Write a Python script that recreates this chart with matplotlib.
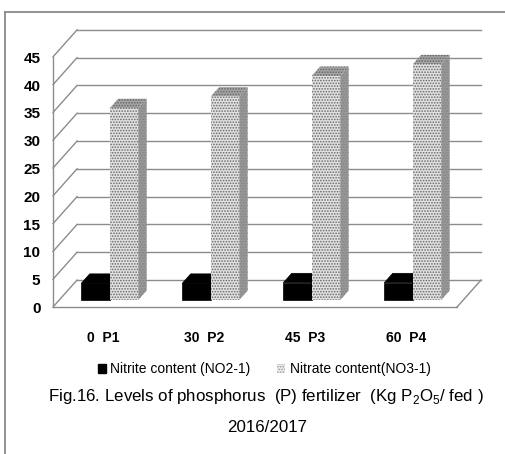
import matplotlib
matplotlib.use("Agg")
import matplotlib.pyplot as plt
from matplotlib.patches import Polygon, Patch
from matplotlib.lines import Line2D

categories = ["0  P1", "30  P2", "45  P3", "60  P4"]
nitrite = [3.0, 3.0, 3.1, 3.1]
nitrate = [34.5, 36.6, 40.3, 42.4]
series_names = ["Nitrite content (NO2-1)", "Nitrate content(NO3-1)"]
yticks = list(range(0, 50, 5))

plt.rcParams['font.family'] = ['Liberation Sans', 'DejaVu Sans']
plt.rcParams['hatch.linewidth'] = 0.8

# fake 3d: how far the back wall sits from the front (x in categories, y in value units)
DX, DY = 0.238, 4.85
BAR_W = 0.282
D0, D1 = 0.26, 0.61   # bar depth range (fraction of floor depth)
grid_c = '#8c8c8c'


def proj(x, v, d):
    return (x + d * DX, v + d * DY)


def draw_bar(ax, x0, h, front, top, side, hatch=None, hcol=None):
    x1 = x0 + BAR_W
    faces = [
        ([proj(x1, 0, D0), proj(x1, 0, D1), proj(x1, h, D1), proj(x1, h, D0)], side),
        ([proj(x0, h, D0), proj(x1, h, D0), proj(x1, h, D1), proj(x0, h, D1)], top),
        ([proj(x0, 0, D0), proj(x1, 0, D0), proj(x1, h, D0), proj(x0, h, D0)], front),
    ]
    for i, (pts, fc) in enumerate(faces):
        if hatch:
            p = Polygon(pts, closed=True, facecolor=fc, edgecolor=hcol[i],
                        hatch=hatch, linewidth=0, zorder=3)
        else:
            p = Polygon(pts, closed=True, facecolor=fc, edgecolor=fc,
                        linewidth=0.5, zorder=3)
        ax.add_patch(p)


fig = plt.figure(figsize=(5.06, 4.54), dpi=100)
ax = fig.add_axes([0, 0, 1, 1])
ax.set_xlim(-0.525, 4.485)
ax.set_ylim(-26.44, 55.22)
ax.axis('off')

n = len(categories)

# walls / gridlines
for v in yticks:
    ax.plot([DX, n + DX], [v + DY, v + DY], color=grid_c, lw=1.0, zorder=1)
    ax.plot([0, DX], [v, v + DY], color=grid_c, lw=1.0, zorder=1)
ax.plot([0, 0], [0, yticks[-1]], color=grid_c, lw=1.0, zorder=1)
ax.plot([0, n], [0, 0], color=grid_c, lw=1.0, zorder=1)
ax.plot([n, n + DX], [0, DY], color=grid_c, lw=1.0, zorder=1)

for v in yticks:
    ax.text(-0.125, v - 0.35, str(v), ha='right', va='center',
            fontsize=11, fontweight='bold')

# bars
for i in range(n):
    draw_bar(ax, i + 0.5 - BAR_W, nitrite[i], 'black', 'black', 'black')
    draw_bar(ax, i + 0.5, nitrate[i], '#e2e2e2', '#a6a6a6', '#989898',
             hatch='......', hcol=['#858585', '#646464', '#686868'])
    ax.text(i + 0.5, -5.6, categories[i], ha='center', va='center',
            fontsize=10, fontweight='bold')

# outer frame
fig.add_artist(Line2D([5 / 506, 1], [1 - 12 / 454, 1 - 12 / 454], color='#8a8a8a', lw=1.3))
fig.add_artist(Line2D([5 / 506, 5 / 506], [0, 1 - 12 / 454], color='#8a8a8a', lw=1.3))

handles = [Patch(facecolor='black', edgecolor='black'),
           Patch(facecolor='#ececec', edgecolor='#9c9c9c', hatch='......', linewidth=0)]
fig.legend(handles, series_names, loc='center', bbox_to_anchor=(0.522, 1 - 369 / 454),
           ncol=2, frameon=False, fontsize=10, handlelength=0.6, handleheight=0.6,
           handletextpad=0.3, columnspacing=1.9)

fig.text(0.526, 1 - 396 / 454,
         "Fig.16. Levels of phosphorus  (P) fertilizer  (Kg P$_\\mathregular{2}$O$_\\mathregular{5}$/ fed )",
         ha='center', va='center', fontsize=12.2)
fig.text(0.527, 1 - 427 / 454, "2016/2017", ha='center', va='center', fontsize=12.2)

fig.savefig("out.png", dpi=100)
